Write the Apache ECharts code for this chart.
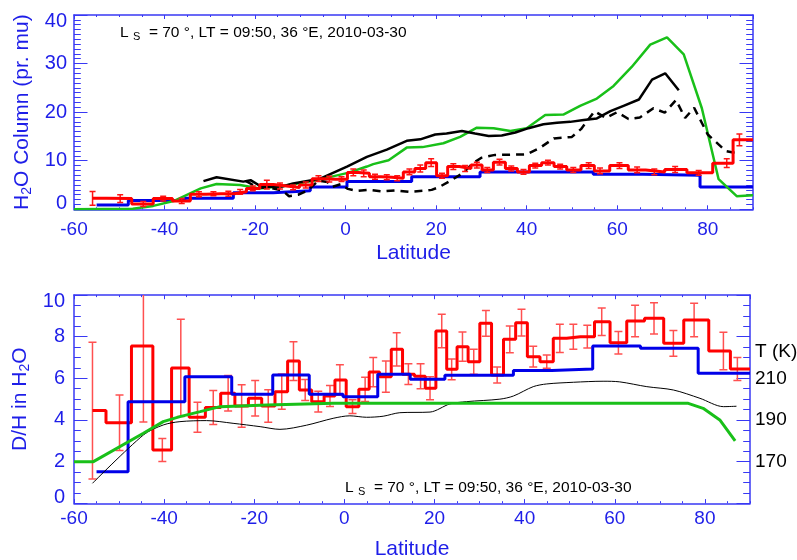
<!DOCTYPE html>
<html>
<head>
<meta charset="utf-8">
<title>H2O column and D/H versus latitude</title>
<script src="https://cdn.jsdelivr.net/npm/echarts@6/dist/echarts.min.js"></script>
<style>
  html, body { margin: 0; padding: 0; background: #fff; }
  #chart { width: 797px; height: 560px; }
</style>
</head>
<body>
<div id="chart"></div>
<script>
// Two stacked panels: water column (top) and D/H ratio + temperature (bottom)

// --- top panel: H2O column (pr. mu) ---
var colObsLat = [-55.9, -49.8, -44.7, -40.3, -36.2, -32.4, -29.2, -25.9, -23.3, -20.5,
  -17.4, -14.5, -11.6, -8.8, -6.0, -3.6, -0.9, 1.7, 4.0, 6.5,
  9.1, 11.4, 14.1, 16.5, 18.9, 21.3, 23.8, 26.4, 29.0, 31.3,
  34.0, 36.6, 39.3, 41.9, 44.7, 47.4, 50.3, 53.7, 56.2, 60.5,
  64.4, 68.2, 72.8, 78.0, 84.2, 87.0];
var colObsVal = [2.25, 2.2, 1.1, 2.2, 1.7, 3.1, 3.2, 3.2, 3.6, 4.3,
  5.1, 4.8, 4.5, 5.0, 6.3, 6.2, 6.2, 7.6, 7.4, 6.7,
  6.6, 6.4, 7.7, 8.4, 9.6, 6.9, 8.8, 8.4, 9.1, 8.1,
  9.7, 8.4, 7.7, 9.0, 9.6, 8.8, 8.1, 9.0, 7.9, 9.0,
  8.1, 7.7, 8.2, 7.5, 9.5, 14.3];
var colObsErr = [1.4, 0.8, 0.5, 0.5, 0.5, 0.5, 0.4, 0.5, 0.5, 0.5,
  0.9, 0.6, 0.5, 0.6, 0.6, 0.6, 0.5, 0.7, 0.7, 0.5,
  0.5, 0.5, 0.6, 0.7, 0.8, 0.5, 0.6, 0.6, 0.6, 0.5,
  0.6, 0.5, 0.5, 0.5, 0.5, 0.5, 0.5, 0.6, 0.6, 0.6,
  0.6, 0.6, 0.6, 0.5, 0.9, 1.2];

var colBinEdges = [-55, -48, -35.5, -24.8, -16, -7.8, 0.3, 14.6, 29.7, 54.7, 65.7, 78.3, 90];
var colBinVal = [0.9, 1.8, 2.3, 3.4, 3.8, 4.6, 5.7, 6.7, 7.7, 7.2, 7.0, 4.6];

var colModelLat = [-60, -47, -42.5, -38, -32, -28.5, -23.3, -19, -13.8, -6.4,
  0.5, 4.7, 6.1, 9.5, 13.5, 17, 21.6, 25.3, 29, 32.7,
  36.4, 40, 44.1, 48.1, 51.8, 55.5, 59.2, 63.2, 67.3, 71,
  74.7, 78.7, 82.4, 86.4, 90];
var colModelVal = [0, 0.1, 0.7, 1.7, 4.3, 5.2, 5.0, 4.3, 4.8, 6.0,
  7.5, 8.8, 9.3, 10.1, 12.7, 12.8, 13.6, 14.9, 16.8, 16.7,
  16.1, 16.7, 19.4, 19.5, 21.3, 22.8, 25.4, 29.3, 33.9, 35.4,
  31.9, 20.8, 6.2, 2.7, 2.9];

var colSolidLat = [-31.4, -28.5, -22.6, -21.0, -18.5, -14.0, -11.6, -5.6, 0.3, 4.7,
  9.1, 13.5, 16.5, 19.8, 22.3, 25.7, 28.6, 31.6, 34.5, 37.5,
  40.4, 43.7, 46.7, 49.6, 52.6, 55.5, 58.5, 61.4, 64.8, 67.7,
  70.6, 73.6];
var colSolidVal = [5.8, 6.6, 5.7, 6.0, 4.6, 4.7, 5.3, 6.3, 8.8, 10.8,
  12.3, 14.1, 14.4, 15.4, 15.6, 16.1, 15.6, 15.1, 15.2, 15.8,
  16.7, 17.5, 17.8, 18.0, 18.4, 18.7, 20.2, 21.3, 22.6, 26.7,
  28.0, 24.5];

var colDashLat = [-22, -19.5, -16.5, -14, -12.5, -10.5, -8.5, -6, -4, -3,
  -1, 0.5, 2.5, 5, 8, 11, 14, 17, 19, 20.5,
  23, 26, 28, 30, 33, 40, 43, 46, 50, 52,
  55, 57.5, 60, 62.5, 65, 68, 70.5, 73, 75, 77,
  80, 84, 86.8];
var colDashVal = [5.8, 4.5, 4.4, 3.9, 2.7, 3.0, 3.8, 5.9, 5.6, 4.6,
  5.2, 4.2, 3.8, 4.0, 3.7, 3.9, 3.6, 3.8, 4.0, 4.5,
  5.8, 7.5, 9.4, 10.6, 11.2, 11.3, 12.7, 14.6, 14.9, 16.5,
  20.2, 18.8, 20.0, 18.6, 18.9, 20.8, 19.9, 22.5, 18.8, 20.9,
  15.4, 12.0, 11.5];

// --- bottom panel: D/H in H2O, temperature on the right axis ---
var dhObsLat = [-55.9, -49.9, -44.6, -40.4, -36.3, -32.6, -29.1, -25.8, -22.8, -19.8,
  -16.9, -13.9, -11.3, -8.7, -5.8, -3.2, -1.0, 1.8, 4.6, 6.4,
  9.2, 11.6, 14.2, 16.9, 19.0, 21.6, 23.8, 26.2, 28.7, 31.4,
  33.9, 36.7, 39.3, 41.9, 44.9, 47.8, 50.8, 53.9, 57.1, 60.8,
  64.5, 68.7, 73.0, 77.6, 84.1, 87.2];
var dhObsVal = [4.45, 3.87, 7.55, 2.56, 6.5, 4.13, 4.6, 5.28, 4.67, 5.04,
  4.67, 5.36, 6.83, 5.44, 4.88, 5.15, 5.92, 4.64, 5.47, 6.3,
  6.08, 7.39, 6.2, 6.1, 5.52, 8.27, 6.43, 7.52, 6.8, 8.64,
  6.16, 7.87, 8.67, 7.04, 6.8, 7.92, 8.0, 8.0, 8.72, 7.71,
  8.75, 8.88, 7.68, 8.8, 7.31, 6.45];
var dhObsErr = [3.28, 1.33, 3.65, 0.55, 2.33, 0.72, 0.82, 0.85, 1.02, 0.85,
  0.78, 0.85, 0.93, 0.5, 0.5, 0.5, 0.73, 0.33, 0.58, 0.7,
  0.75, 0.8, 0.5, 0.6, 0.55, 0.8, 0.5, 0.7, 0.6, 0.62,
  0.38, 0.64, 0.64, 0.5, 0.32, 0.68, 0.6, 0.55, 0.66, 0.54,
  0.76, 0.75, 0.62, 0.8, 0.9, 0.55];

var dhBinEdges = [-55, -48, -35.4, -25, -15.9, -7.8, -0.3, 7.4, 14.6, 22.3, 37.5, 46, 55.1, 65.7, 78.5, 90];
var dhBinVal = [1.52, 4.88, 6.08, 5.23, 6.16, 5.23, 5.12, 6.19, 5.95, 6.15, 6.37, 6.45, 7.55, 7.44, 6.24];

var dhModelLat = [-60, -55.7, -44.6, -40.2, -36.5, -32, -27.6, -17.2, -2.5, 76.3, 79.6, 83.3, 86.7];
var dhModelVal = [2.0, 2.0, 3.36, 3.92, 4.16, 4.4, 4.64, 4.72, 4.8, 4.8, 4.56, 4.0, 3.0];

var tempLat = [-55.9, -44.6, -40.2, -36.5, -30.6, -24.7, -18.7, -14.3, -8.4, -2.5,
  1.2, 4.9, 8.6, 12.3, 19.0, 23.4, 27.1, 34.5, 37.5, 41.9,
  44.9, 50.8, 57.4, 61.1, 67.1, 73.0, 78.9, 84.1, 87.0];
var tempVal = [159.6, 182.8, 187.6, 189.2, 189.7, 188.4, 186.8, 185.5, 187.5, 190.8,
  192.0, 191.3, 191.8, 193.5, 193.8, 197.7, 198.8, 200.0, 201.5, 206.0,
  207.3, 208.1, 208.6, 208.3, 206.0, 204.4, 200.4, 196.4, 196.6];

var tempTickLabels = [170, 190, 210];
var annotation = '{a|L }{s|S}{a|  = 70 °, LT = 09:50, 36 °E, 2010-03-30}';

// --- styling ---
var FONT = '"Liberation Sans", Arial, Helvetica, sans-serif';
var AXIS_BLUE = '#3838f4';
var LABEL_BLUE = '#1e1ee8';
var LAT_MIN = -60, LAT_MAX = 90;

function pairs(xs, ys) {
  return xs.map(function (x, i) { return [x, ys[i]]; });
}

// IDL psym=10 style histogram: steps switch half way between samples
function histSteps(xs, ys, xEnd) {
  var out = [[xs[0], ys[0]]];
  for (var i = 1; i < xs.length; i++) {
    var mid = (xs[i - 1] + xs[i]) / 2;
    out.push([mid, ys[i - 1]], [mid, ys[i]]);
  }
  out.push([xEnd, ys[ys.length - 1]]);
  return out;
}

function binSteps(edges, vals) {
  var out = [];
  for (var i = 0; i < vals.length; i++) {
    out.push([edges[i], vals[i]], [edges[i + 1], vals[i]]);
  }
  return out;
}

function errRanges(xs, ys, es) {
  return xs.map(function (x, i) { return [x, ys[i] - es[i], ys[i] + es[i]]; });
}

function errorBarRenderer(capHalf, color, width) {
  return function (params, api) {
    var lo = api.coord([api.value(0), api.value(1)]);
    var hi = api.coord([api.value(0), api.value(2)]);
    var st = { stroke: color, lineWidth: width };
    return {
      type: 'group',
      children: [
        { type: 'line', shape: { x1: lo[0], y1: lo[1], x2: hi[0], y2: hi[1] }, style: st },
        { type: 'line', shape: { x1: lo[0] - capHalf, y1: lo[1], x2: lo[0] + capHalf, y2: lo[1] }, style: st },
        { type: 'line', shape: { x1: hi[0] - capHalf, y1: hi[1], x2: hi[0] + capHalf, y2: hi[1] }, style: st }
      ]
    };
  };
}

// min / max y labels are nudged inside the frame, as in the original plot
function edgeFormatter(lo, hi) {
  return function (v) {
    if (v === lo) return '{lo|' + v + '}';
    if (v === hi) return '{hi|' + v + '}';
    return String(v);
  };
}
function edgeRich(size, color, shift) {
  var base = { fontSize: size, fontFamily: FONT, color: color };
  return {
    lo: Object.assign({ padding: [0, 0, shift * 2, 0] }, base),
    hi: Object.assign({ padding: [shift * 2, 0, 0, 0] }, base)
  };
}

// four latitude axes per grid: bottom + top frame, each with a major and a minor tick layer
function latAxes(gridIndex, tickLen, labelMargin, nameGap) {
  var base = { type: 'value', gridIndex: gridIndex, min: LAT_MIN, max: LAT_MAX, splitLine: { show: false } };
  var tick = function (len) {
    return { show: true, inside: true, length: len, lineStyle: { color: AXIS_BLUE, width: 1 } };
  };
  var frame = { show: true, onZero: false, lineStyle: { color: AXIS_BLUE, width: 1.5 } };
  return [
    Object.assign({}, base, {
      position: 'bottom', interval: 20,
      name: 'Latitude', nameLocation: 'middle', nameGap: nameGap,
      nameTextStyle: { color: LABEL_BLUE, fontSize: 21, fontFamily: FONT },
      axisLine: frame, axisTick: tick(tickLen),
      axisLabel: { showMaxLabel: false, margin: labelMargin, color: LABEL_BLUE, fontSize: 19, fontFamily: FONT }
    }),
    Object.assign({}, base, {
      position: 'bottom', interval: 5,
      axisLine: { show: false, onZero: false }, axisTick: tick(tickLen / 2), axisLabel: { show: false }
    }),
    Object.assign({}, base, {
      position: 'top', interval: 20,
      axisLine: frame, axisTick: tick(tickLen), axisLabel: { show: false }
    }),
    Object.assign({}, base, {
      position: 'top', interval: 5,
      axisLine: { show: false, onZero: false }, axisTick: tick(tickLen / 2), axisLabel: { show: false }
    })
  ];
}

function valueAxis(o) {
  return {
    type: 'value', gridIndex: o.grid, position: o.position,
    min: o.min, max: o.max, interval: o.interval,
    splitLine: { show: false },
    axisLine: { show: true, onZero: false, lineStyle: { color: AXIS_BLUE, width: 1.5 } },
    axisTick: { show: true, inside: true, length: 13.5, lineStyle: { color: AXIS_BLUE, width: 1 } },
    minorTick: { show: true, splitNumber: o.minor, length: 6.8, lineStyle: { color: AXIS_BLUE, width: 1 } },
    axisLabel: o.label || { show: false },
    name: o.name, nameLocation: 'middle', nameGap: o.nameGap,
    nameTextStyle: o.nameStyle
  };
}

function subscriptName(parts) {
  return '{n|' + parts[0] + '}{s|' + parts[1] + '}{n|' + parts[2] + '}';
}
var nameRich = {
  n: { fontSize: 21, fontFamily: FONT, color: LABEL_BLUE },
  s: { fontSize: 14, fontFamily: FONT, color: LABEL_BLUE, padding: [10, 0, 0, 0] }
};

var xAxes = latAxes(0, 4, 11, 33).concat(latAxes(1, 4.2, 6, 35));

var yAxes = [
  valueAxis({
    grid: 0, position: 'left', min: 0, max: 40, interval: 10, minor: 10,
    label: { margin: 7, color: LABEL_BLUE, fontSize: 20, fontFamily: FONT,
      formatter: edgeFormatter(0, 40), rich: edgeRich(20, LABEL_BLUE, 6) },
    name: subscriptName(['H', '2', 'O Column (pr. mu)']), nameGap: 37,
    nameStyle: { rich: nameRich }
  }),
  valueAxis({ grid: 0, position: 'right', min: 0, max: 40, interval: 10, minor: 10 }),
  valueAxis({
    grid: 1, position: 'left', min: 0, max: 10, interval: 2, minor: 4,
    label: { margin: 9, color: LABEL_BLUE, fontSize: 20, fontFamily: FONT,
      formatter: edgeFormatter(0, 10), rich: edgeRich(20, LABEL_BLUE, 6) },
    name: subscriptName(['D/H in H', '2', 'O']), nameGap: 35,
    nameStyle: { rich: nameRich }
  }),
  valueAxis({
    grid: 1, position: 'right', min: 150, max: 250, interval: 20, minor: 4,
    label: { margin: 5, color: '#000', fontSize: 19, fontFamily: FONT,
      formatter: function (v) { return tempTickLabels.indexOf(v) >= 0 ? String(v) : ''; } }
  })
];

function line(name, data, xi, yi, color, width, extra) {
  return Object.assign({
    type: 'line', name: name, data: data, xAxisIndex: xi, yAxisIndex: yi,
    showSymbol: false, symbol: 'none', clip: true,
    lineStyle: { color: color, width: width }, z: 2
  }, extra || {});
}

var annotationRich = {
  a: { fontSize: 15.5, fontFamily: FONT, fill: '#000' },
  s: { fontSize: 11, fontFamily: FONT, fill: '#000', padding: [8, 0, 0, 0] }
};

var option = {
  animation: false,
  backgroundColor: '#fff',
  grid: [
    { left: 74, right: 44, top: 15, height: 194.3, containLabel: false, outerBoundsMode: 'none' },
    { left: 74, right: 47, top: 295, height: 208.3, containLabel: false, outerBoundsMode: 'none' }
  ],
  xAxis: xAxes,
  yAxis: yAxes,
  series: [
    // top panel
    line('binned', binSteps(colBinEdges, colBinVal), 0, 0, '#0000e8', 3),
    line('model', pairs(colModelLat, colModelVal), 0, 0, '#19c019', 2.5),
    line('retrieval', pairs(colSolidLat, colSolidVal), 0, 0, '#000', 2.5),
    line('retrieval 2', pairs(colDashLat, colDashVal), 0, 0, '#000', 2.5,
      { lineStyle: { color: '#000', width: 2.5, type: [8, 6] } }),
    line('observed', histSteps(colObsLat, colObsVal, LAT_MAX), 0, 0, '#ff0000', 3, { z: 3 }),
    {
      type: 'custom', name: 'observed error', xAxisIndex: 0, yAxisIndex: 0, clip: true, z: 3,
      data: errRanges(colObsLat, colObsVal, colObsErr),
      encode: { x: 0, y: [1, 2] },
      renderItem: errorBarRenderer(3, '#ff1414', 1.5)
    },
    // bottom panel
    {
      type: 'custom', name: 'D/H error', xAxisIndex: 4, yAxisIndex: 2, clip: true, z: 2,
      data: errRanges(dhObsLat, dhObsVal, dhObsErr),
      encode: { x: 0, y: [1, 2] },
      renderItem: errorBarRenderer(4, '#ff5050', 1.5)
    },
    line('D/H observed', histSteps(dhObsLat, dhObsVal, LAT_MAX), 4, 2, '#ff0000', 3),
    line('D/H binned', binSteps(dhBinEdges, dhBinVal), 4, 2, '#0000e8', 3, { z: 3 }),
    line('temperature', pairs(tempLat, tempVal), 4, 3, '#000', 1, { smooth: 0.3, z: 3 }),
    line('D/H model', pairs(dhModelLat, dhModelVal), 4, 2, '#19c019', 3, { z: 4 })
  ],
  graphic: [
    {
      type: 'text', x: 120, y: 33,
      style: { text: annotation, verticalAlign: 'middle', fill: '#000', rich: annotationRich }
    },
    {
      type: 'text', x: 345, y: 488,
      style: { text: annotation, verticalAlign: 'middle', fill: '#000', rich: annotationRich }
    },
    {
      type: 'text', x: 755, y: 352,
      style: { text: 'T (K)', verticalAlign: 'middle', fill: '#000', fontSize: 19, fontFamily: FONT }
    }
  ]
};

var chart = echarts.init(document.getElementById('chart'));
chart.setOption(option);
</script>
</body>
</html>
